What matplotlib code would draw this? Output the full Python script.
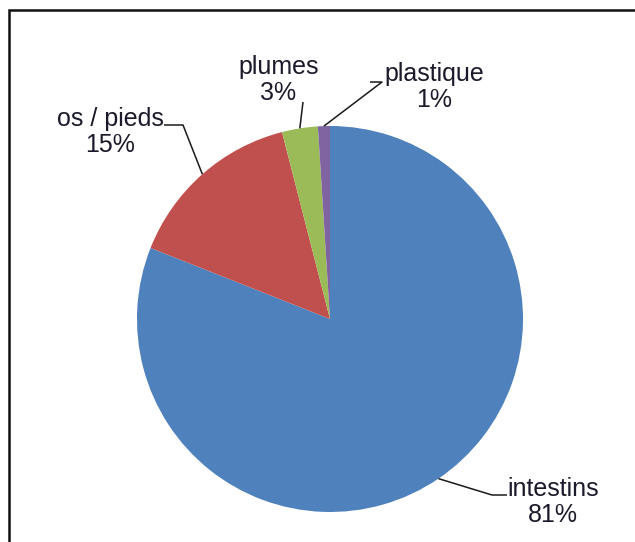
import numpy as np
import matplotlib
matplotlib.use("Agg")
import matplotlib.pyplot as plt
from matplotlib.patches import Rectangle

# Données du camembert (sens horaire depuis midi)
categories = ["intestins", "os / pieds", "plumes", "plastique"]
valeurs = [81, 15, 3, 1]
etiquettes = ["81%", "15%", "3%", "1%"]
couleurs = ["#4F81BD", "#C0504D", "#9BBB59", "#8064A2"]

plt.rcParams['font.family'] = ['Liberation Sans', 'DejaVu Sans']

W, H = 635, 542
fig = plt.figure(figsize=(W / 100, H / 100), dpi=100)
ax = fig.add_axes([0, 0, 1, 1])

# centre et rayon en pixels (y vers le haut)
cx, cy, r = 330, H - 319, 193
wedges, _ = ax.pie(valeurs, colors=couleurs, startangle=90, counterclock=False,
                   center=(cx, cy), radius=r, wedgeprops=dict(linewidth=0))
ax.set_xlim(0, W)
ax.set_ylim(0, H)
ax.set_aspect('equal')
ax.axis('off')

# position du texte (centre x, ligne de base du pourcentage en pixels) et coude de la ligne de rappel
textes = [(553, 522), (110.5, 152), (278.5, 100), (434, 107)]
coudes = [[(492, 495), (507, 495)],
          [(183, 125), (164, 125)],
          [(303, 102)],
          [(382, 82), (370, 82)]]

for w, cat, pct, (tx, ty), coude in zip(wedges, categories, etiquettes, textes, coudes):
    ang = np.deg2rad((w.theta1 + w.theta2) / 2)
    px = cx + r * np.cos(ang)
    py = cy + r * np.sin(ang)
    xs = [px] + [c[0] for c in coude]
    ys = [py] + [H - c[1] for c in coude]
    ax.plot(xs, ys, color='#1a1a1a', lw=1.1, solid_capstyle='butt')
    ax.text(tx, H - ty, cat + "\n" + pct, ha='center', va='baseline',
            multialignment='center', fontsize=18, color='#1a1a2a', linespacing=1.08)

# cadre du graphique
fig.patches.append(Rectangle((9 / W, -0.1), 1.2, (H - 10) / H + 0.1, transform=fig.transFigure,
                             fill=False, edgecolor='#111111', lw=1.8))

fig.savefig("out.png", dpi=100)
